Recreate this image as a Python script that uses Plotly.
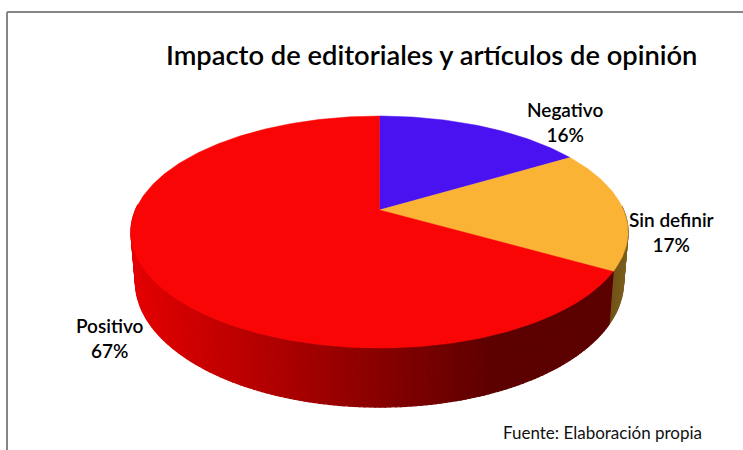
import math
import plotly.graph_objects as go

title = "Impacto de editoriales y artículos de opinión"
source = "Fuente: Elaboración propia"
categories = ["Negativo", "Sin definir", "Positivo"]
values = [16.4, 16.9, 66.7]
top_colors = ["#4A12F0", "#FBB335", "#FA0505"]
label_xy = [(565, 122), (671, 232), (110, 338)]

# Projection of the tilted disc onto the page (pixel coordinates)
X0, Y0, A, B, K = 379.5, 210.0, 244.0, 111.8, 0.19
DEPTH, SX, SY = 48.0, 0.982, 1.08


def rim(theta):
    u, v = math.sin(theta), math.cos(theta)
    d = 1 + K * v
    return X0 + A * u / d, Y0 - B * v / d


def low(theta):
    x, y = rim(theta)
    return X0 + (x - X0) * SX, Y0 + (y - Y0) * SY + DEPTH


def lerp(a, b, t):
    return a + (b - a) * t


def red_side(x):
    t = min(1.0, max(0.0, (x - 131) / 365))
    return f"rgb({lerp(228, 92, t):.0f},0,0)"


def olive_side(x):
    t = min(1.0, max(0.0, (x - 606) / 22))
    return f"rgb({lerp(104, 125, t):.0f},{lerp(78, 95, t):.0f},{lerp(20, 30, t):.0f})"


fig = go.Figure()


def poly(xs, ys, color, lw=0.8):
    fig.add_trace(go.Scatter(x=xs, y=ys, mode="lines", fill="toself", fillcolor=color,
                             line=dict(color=color, width=lw), hoverinfo="skip",
                             showlegend=False))


total = sum(values)
edges = [0.0]
for v in values:
    edges.append(edges[-1] + v / total * 2 * math.pi)

# Side wall of the visible slices: starts where the rim turns towards the viewer
STEP = math.radians(1.0)
bands = []
theta = max(edges[1], math.radians(88))
while theta < math.radians(272):
    nxt = theta + STEP
    if theta < edges[2] < nxt:
        nxt = edges[2]
    bands.append((theta, nxt))
    theta = nxt
for a, b in bands:
    p1, p2, p3, p4 = rim(a), rim(b), low(b), low(a)
    mid = (p1[0] + p2[0]) / 2
    color = olive_side(mid) if a < edges[2] - 1e-9 else red_side(mid)
    poly([p1[0], p2[0], p3[0], p4[0], p1[0]], [p1[1], p2[1], p3[1], p4[1], p1[1]], color, 1.2)

# Top face of each slice
for i, c in enumerate(top_colors):
    n = max(4, int(values[i] * 4))
    ts = [edges[i] + (edges[i + 1] - edges[i]) * j / n for j in range(n + 1)]
    pts = [rim(t) for t in ts]
    poly([X0] + [p[0] for p in pts] + [X0], [Y0] + [p[1] for p in pts] + [Y0], c, 0.5)

annotations = [
    dict(x=431, y=54, text=title, font=dict(size=27.3, family="Lato", color="#000000", weight=600)),
    dict(x=602.5, y=432, text=source, font=dict(size=17, family="Lato", color="#111111")),
]
for name, val, (lx, ly) in zip(categories, values, label_xy):
    annotations.append(dict(x=lx, y=ly, text=f"{name}<br>{round(val)}%",
                            font=dict(size=19, family="Lato", color="#000000", weight=600)))
for a in annotations:
    a.update(xref="x", yref="y", showarrow=False, xanchor="center", yanchor="middle")

border = dict(type="line", xref="x", yref="y", line=dict(color="#868686", width=2))
shapes = [dict(border, x0=7, y0=12, x1=743, y1=12), dict(border, x0=7, y0=12, x1=7, y1=450)]

fig.update_layout(
    width=743, height=450, margin=dict(l=0, r=0, t=0, b=0),
    paper_bgcolor="white", plot_bgcolor="white", showlegend=False,
    xaxis=dict(range=[0, 743], visible=False, fixedrange=True),
    yaxis=dict(range=[450, 0], visible=False, fixedrange=True),
    annotations=annotations, shapes=shapes,
)
fig.write_html("out.html", config={"displayModeBar": False},
               post_script="document.body.style.margin='0';document.body.style.overflow='hidden';")
